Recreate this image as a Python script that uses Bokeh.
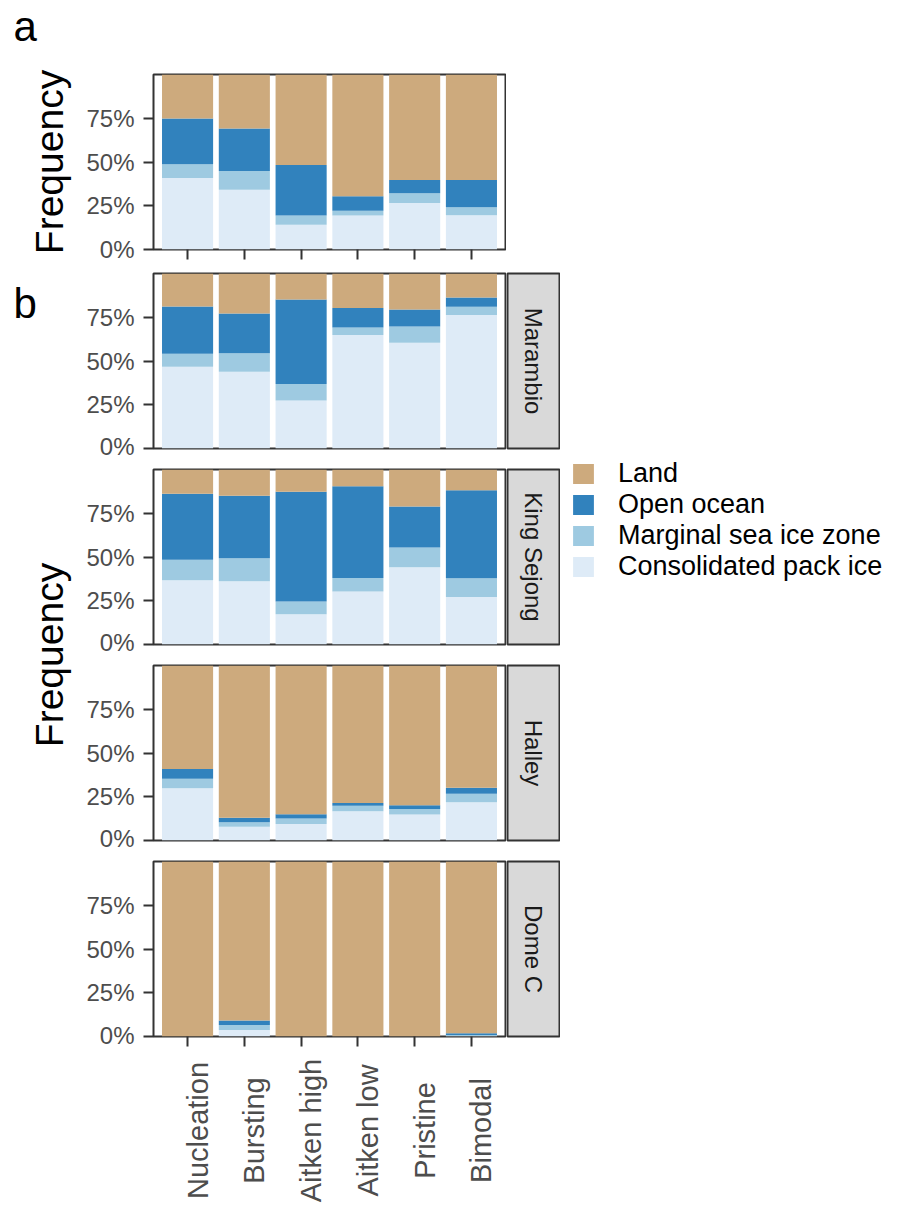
import math
from bokeh.plotting import figure
from bokeh.models import (Range1d, FixedTicker, PrintfTickFormatter, Legend,
                          LegendItem, ColumnDataSource, Spacer)
from bokeh.layouts import row, column
from bokeh.embed import file_html
from bokeh.resources import INLINE
from bokeh.core.properties import value

# ---------------- data (percent of air-mass time) ----------------
categories = ["Nucleation", "Bursting", "Aitken high", "Aitken low", "Pristine", "Bimodal"]
surface_types = ["Consolidated pack ice", "Marginal sea ice zone", "Open ocean", "Land"]
surface_colors = ["#DEEBF7", "#9ECAE1", "#3182BD", "#CDAA7D"]
legend_order = ["Land", "Open ocean", "Marginal sea ice zone", "Consolidated pack ice"]

stations = ["Marambio", "King Sejong", "Halley", "Dome C"]

all_consolidated = [40.9, 34.2, 14.1, 19.4, 26.6, 19.6]
all_marginal     = [7.8, 10.7, 5.3, 2.8, 5.5, 4.5]
all_open         = [26.2, 24.3, 28.9, 8.2, 7.6, 15.6]
all_land         = [25.1, 30.8, 51.7, 69.6, 60.3, 60.3]

marambio_consolidated = [46.7, 43.9, 27.5, 64.8, 60.5, 76.3]
marambio_marginal     = [7.5, 10.5, 9.4, 4.4, 9.2, 4.7]
marambio_open         = [27.0, 22.7, 48.3, 11.1, 9.8, 5.3]
marambio_land         = [18.8, 22.9, 14.8, 19.7, 20.5, 13.7]

kingsejong_consolidated = [36.7, 36.1, 17.3, 30.3, 44.2, 27.1]
kingsejong_marginal     = [11.7, 13.2, 7.3, 7.7, 11.2, 10.7]
kingsejong_open         = [37.7, 35.7, 62.7, 52.5, 23.4, 50.4]
kingsejong_land         = [13.9, 15.0, 12.7, 9.5, 21.2, 11.8]

halley_consolidated = [29.9, 7.9, 9.4, 16.7, 14.8, 21.8]
halley_marginal     = [5.4, 2.6, 3.2, 3.2, 3.2, 4.9]
halley_open         = [5.5, 2.5, 2.4, 1.5, 2.1, 3.4]
halley_land         = [59.2, 87.0, 85.0, 78.6, 79.9, 69.9]

domec_consolidated = [0.0, 3.7, 0.0, 0.0, 0.0, 0.3]
domec_marginal     = [0.0, 2.9, 0.0, 0.0, 0.0, 0.5]
domec_open         = [0.0, 2.6, 0.0, 0.0, 0.0, 1.0]
domec_land         = [100.0, 90.8, 100.0, 100.0, 100.0, 98.2]

y_ticks = [0, 25, 50, 75]

# ---------------- styling constants ----------------
FONT = "Liberation Sans"
FRAME_W, FRAME_H = 352, 175
LEFT = 73
LAB_W = 72
x_pos = [i + 1 for i in range(len(categories))]


def bar_figure(cons, marg, ocean, land, top, bottom, ticks):
    p = figure(frame_width=FRAME_W, frame_height=FRAME_H,
               x_range=Range1d(0.4, len(categories) + 0.6), y_range=Range1d(0, 100),
               min_border_left=LEFT, min_border_right=1,
               min_border_top=top, min_border_bottom=bottom,
               x_axis_location="below" if ticks else None,
               toolbar_location=None, output_backend="svg")
    src = ColumnDataSource(dict(x=x_pos, cons=cons, marg=marg, ocean=ocean, land=land))
    p.vbar_stack(["cons", "marg", "ocean", "land"], x="x", width=0.9, source=src,
                 fill_color=surface_colors, line_color=None)
    p.grid.visible = False
    p.outline_line_color = "#333333"
    p.outline_line_width = 2
    yax = p.yaxis[0]
    yax.ticker = FixedTicker(ticks=y_ticks)
    yax.formatter = PrintfTickFormatter(format="%d%%")
    yax.major_label_text_font = FONT
    yax.major_label_text_font_size = "24px"
    yax.major_label_text_color = "#4D4D4D"
    yax.major_label_standoff = 9
    yax.major_tick_out = 10
    yax.major_tick_in = 0
    yax.major_tick_line_width = 2
    yax.major_tick_line_color = "#333333"
    yax.minor_tick_line_color = None
    yax.axis_line_color = None
    if ticks:
        xax = p.xaxis[0]
        xax.ticker = FixedTicker(ticks=x_pos)
        xax.major_label_overrides = {x: "" for x in x_pos}
        xax.major_label_standoff = 0
        xax.major_tick_out = 10
        xax.major_tick_in = 0
        xax.major_tick_line_width = 2
        xax.major_tick_line_color = "#333333"
        xax.minor_tick_line_color = None
        xax.axis_line_color = None
    return p


def strip_figure(name, top, bottom):
    s = figure(frame_width=52, frame_height=FRAME_H, x_range=Range1d(0, 1), y_range=Range1d(0, 1),
               min_border_left=1, min_border_right=1, min_border_top=top, min_border_bottom=bottom,
               x_axis_location=None, y_axis_location=None,
               toolbar_location=None, output_backend="svg")
    s.grid.visible = False
    s.background_fill_color = "#D9D9D9"
    s.outline_line_color = "#333333"
    s.outline_line_width = 2
    s.text(x=[0.5], y=[0.5], text=[name], angle=-math.pi / 2, text_align="center",
           text_baseline="middle", text_font=value(FONT), text_font_size="24px",
           text_color="#1A1A1A")
    return s


# ---------------- panel a ----------------
A_TOP, A_BOT = 66, 14
figA = bar_figure(all_consolidated, all_marginal, all_open, all_land, A_TOP, A_BOT, True)
hA = A_TOP + FRAME_H + A_BOT

# ---------------- panel b ----------------
station_data = [
    (marambio_consolidated, marambio_marginal, marambio_open, marambio_land),
    (kingsejong_consolidated, kingsejong_marginal, kingsejong_open, kingsejong_land),
    (halley_consolidated, halley_marginal, halley_open, halley_land),
    (domec_consolidated, domec_marginal, domec_open, domec_land),
]
facet_rows = []
last_fig = None
for i, (name, d) in enumerate(zip(stations, station_data)):
    last = i == len(stations) - 1
    bottom = 12 if last else 11
    f = bar_figure(*d, 10, bottom, last)
    s = strip_figure(name, 10, bottom)
    facet_rows.append(row(f, s))
    if last:
        last_fig = f

XLAB_H = 155
xlab = figure(frame_width=FRAME_W, frame_height=XLAB_H, x_range=last_fig.x_range,
              y_range=Range1d(0, XLAB_H), min_border_left=LEFT, min_border_right=1,
              min_border_top=0, min_border_bottom=0,
              x_axis_location=None, y_axis_location=None,
              toolbar_location=None, output_backend="svg")
xlab.grid.visible = False
xlab.outline_line_color = None
xlab.text(x=x_pos, y=[XLAB_H - 82] * len(x_pos), text=categories, angle=math.pi / 2,
          text_align="center", text_baseline="alphabetic", x_offset=10,
          text_font=value(FONT), text_font_size="29px", text_color="#4D4D4D")

colB = column(*facet_rows, xlab)

# ---------------- left label strip (panel letters, y titles) ----------------
TOP_PAD = 8
hB = 4 * 196
H_LAB = TOP_PAD + hA + hB
lab = figure(width=LAB_W, height=H_LAB, x_range=Range1d(0, LAB_W), y_range=Range1d(0, H_LAB),
             min_border=0, x_axis_location=None, y_axis_location=None,
             toolbar_location=None, output_backend="svg")
lab.grid.visible = False
lab.outline_line_color = None
lab.text(x=[5, 5], y=[H_LAB - (TOP_PAD + 18), H_LAB - (TOP_PAD + 295)], text=["a", "b"],
         text_align="left", text_baseline="alphabetic", text_font=value(FONT),
         text_font_size="42px", text_color="#000000")
lab.text(x=[41, 41], y=[H_LAB - (TOP_PAD + 153.5), H_LAB - (TOP_PAD + 646.5)],
         text=["Frequency", "Frequency"], angle=math.pi / 2, text_align="center",
         text_baseline="alphabetic", text_font=value(FONT), text_font_size="39px",
         text_color="#000000")

# ---------------- legend ----------------
lf = figure(frame_width=320, frame_height=130, x_range=Range1d(0, 1), y_range=Range1d(0, 1),
            min_border_left=10, min_border_right=0, min_border_top=0, min_border_bottom=0,
            x_axis_location=None, y_axis_location=None,
            toolbar_location=None, output_backend="svg")
lf.grid.visible = False
lf.outline_line_color = None
rend = {}
for name, col in zip(surface_types, surface_colors):
    # single point placed outside the visible range: only its legend key shows
    rend[name] = lf.vbar(x=[5], top=[1], width=0.5, fill_color=col, line_color=None)
legend = Legend(items=[LegendItem(label=n, renderers=[rend[n]]) for n in legend_order],
                location="top_left", orientation="vertical", margin=0, padding=0, spacing=0,
                glyph_width=26, glyph_height=25, label_height=30, label_standoff=22,
                label_text_font=FONT, label_text_font_size="27px", label_text_color="#000000",
                border_line_color=None, background_fill_alpha=0)
lf.add_layout(legend)
legend_col = column(Spacer(width=330, height=195), lf)

right = column(Spacer(width=8, height=TOP_PAD), figA, row(colB, legend_col))
layout = row(Spacer(width=8, height=8), lab, right)

open("out.html", "w").write(file_html(layout, INLINE))
